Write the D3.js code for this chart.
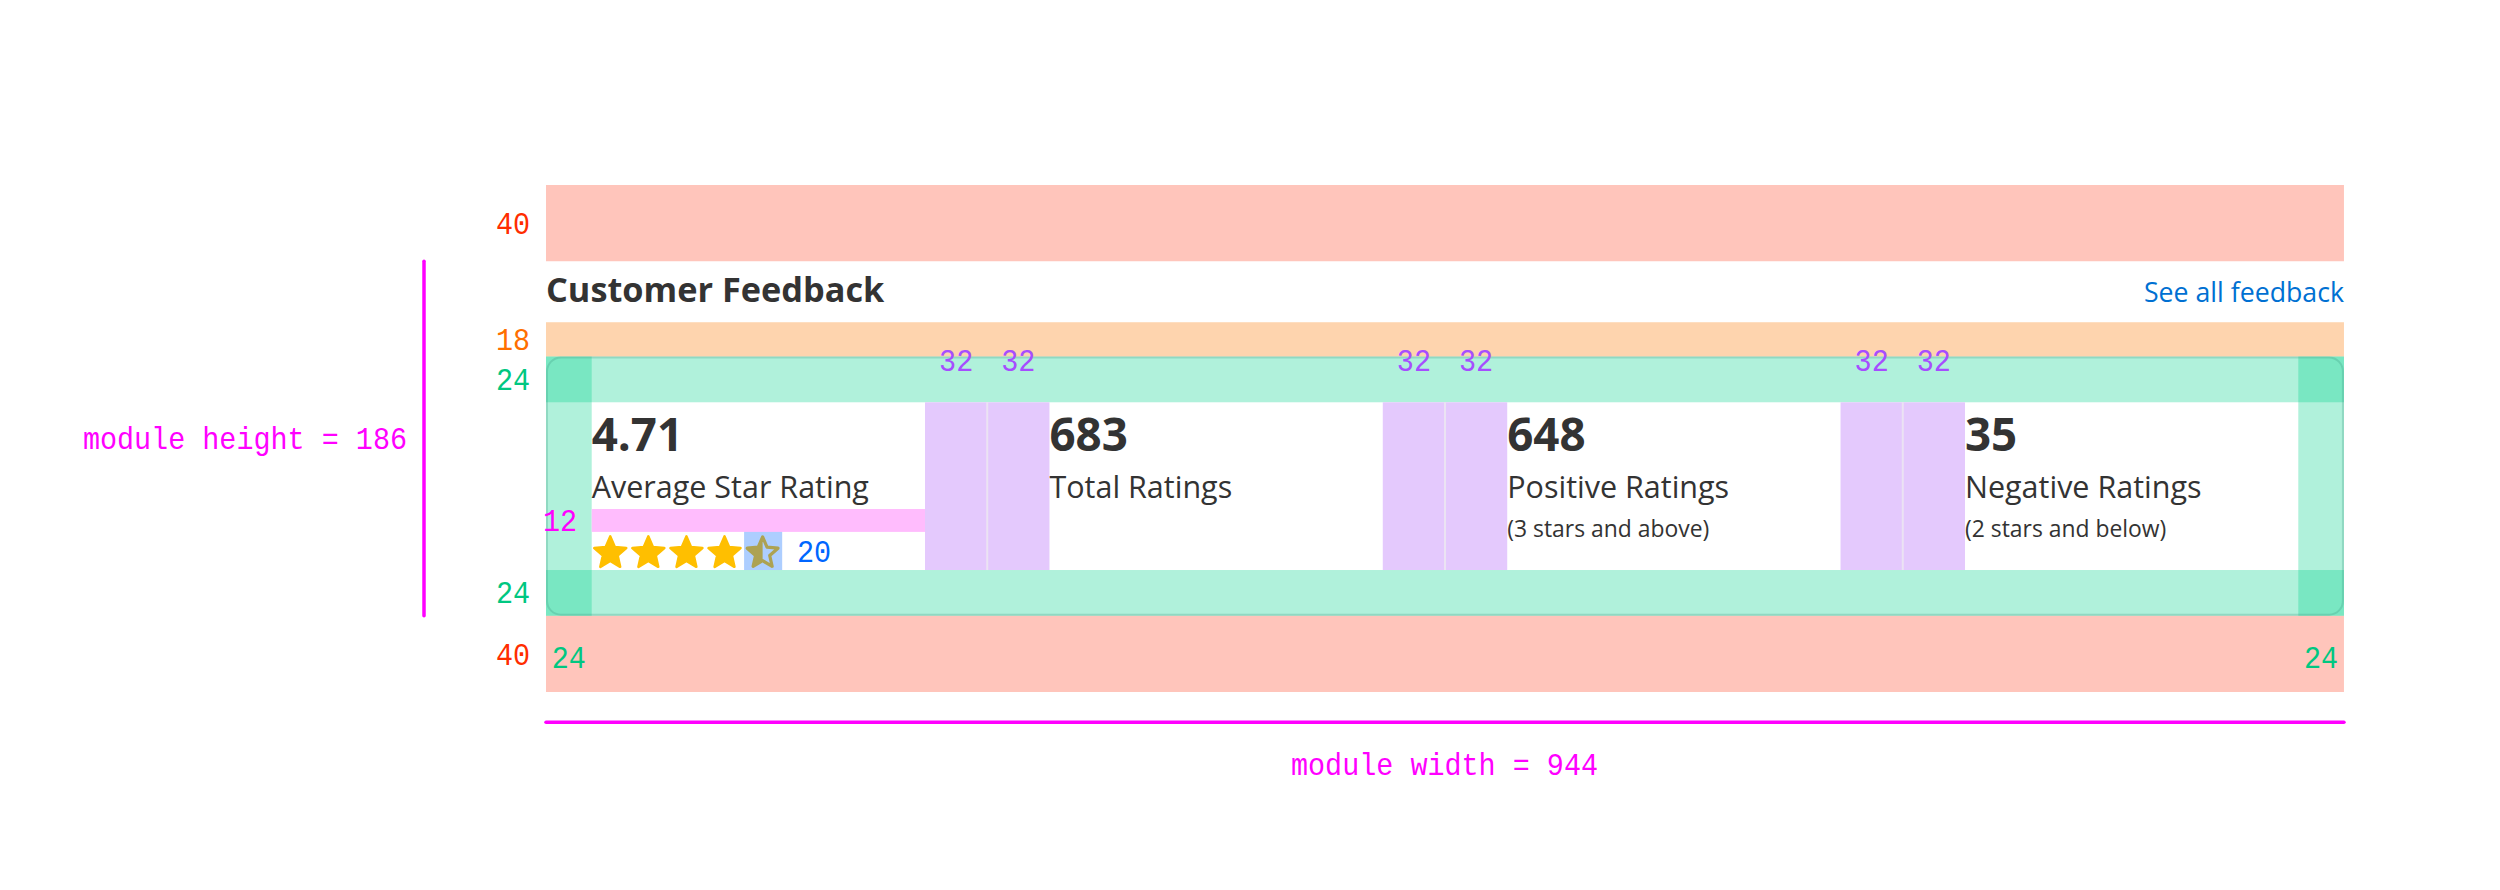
<!DOCTYPE html>
<html>
<head>
<meta charset="utf-8">
<script src="https://d3js.org/d3.v7.min.js"></script>
<style>html,body{margin:0;padding:0;background:#fff}svg{display:block}</style>
</head>
<body>
<svg id="c" width="2500" height="890"></svg>
<script>
// Spacing values shown in the redline (design units)
const verticalSegments = [40, 32, 18, 24, 88, 24, 40];
const horizontalSegments = [24, 175, 32.67, 32.67, 175, 32.67, 32.67, 175, 32.67, 32.67, 175, 24];
const paddingLabel = 24, gapLabel = 32;
const starSlots = [1, 1, 1, 1, 0.5];
const metricValues = ["4.71", "683", "648", "35"];
const metricLabels = ["Average Star Rating", "Total Ratings", "Positive Ratings", "Negative Ratings"];
const metricNotes = ["", "", "(3 stars and above)", "(2 stars and below)"];
const titleText = "Customer Feedback";
const linkText = "See all feedback";
const moduleWidth = 944, moduleHeight = 186, pinkGap = 12, starSize = 20;

const svg = d3.select("#c");
const SANS = "'Open Sans'", MONO = "'Liberation Mono'";
const col = {red:"#ff2d00", orange:"#ff6f00", green:"#00d28c", labelGreen:"#00c781", purple:"#a64dff", magenta:"#ff00ff", blue:"#0066ff", ink:"#333333", link:"#0070d2"};

const xs = d3.scaleLinear().domain([0, d3.sum(horizontalSegments)]).range([546, 2344]);
const ys = d3.scaleLinear().domain([0, d3.sum(verticalSegments)]).range([185, 692]);
const xe = [0, ...d3.cumsum(horizontalSegments)];
const ye = [0, ...d3.cumsum(verticalSegments)];

function rect(x0, x1, y0, y1, fill, op) {
  return svg.append("rect").attr("x", xs(x0)).attr("width", xs(x1) - xs(x0))
    .attr("y", ys(y0)).attr("height", ys(y1) - ys(y0)).attr("fill", fill).attr("fill-opacity", op == null ? 1 : op);
}
function text(s, x, y, size, fill, family, weight, anchor) {
  return svg.append("text").text(s).attr("x", x).attr("y", y).attr("font-size", size)
    .attr("fill", fill).attr("font-family", family).attr("font-weight", weight || 400)
    .attr("text-anchor", anchor || "start");
}
// Redline annotations: narrow, tall monospace
function mono(s, x, y, fill, anchor) {
  return svg.append("text").text(s).attr("transform", `translate(${x},${y - 0.8}) scale(0.9,1)`)
    .attr("font-size", 31.6).attr("fill", fill).attr("font-family", MONO)
    .attr("text-anchor", anchor || "start");
}

// margins
rect(0, moduleWidth, ye[0], ye[1], "#ffc5bb");
rect(0, moduleWidth, ye[6], ye[7], "#ffc5bb");
rect(0, moduleWidth, ye[2], ye[3], "#fed4ae");

// padding bands (overlap forms the darker corners)
rect(0, moduleWidth, ye[3], ye[4], col.green, 0.31);
rect(0, moduleWidth, ye[5], ye[6], col.green, 0.31);
rect(xe[0], xe[1], ye[3], ye[6], col.green, 0.31);
rect(xe[11], xe[12], ye[3], ye[6], col.green, 0.31);

// card outline
svg.append("rect").attr("x", xs(0) + 1).attr("y", ys(ye[3]) + 1)
  .attr("width", xs(moduleWidth) - xs(0) - 2).attr("height", ys(ye[6]) - ys(ye[3]) - 2)
  .attr("rx", 14).attr("fill", "none").attr("stroke", "#3d9a80").attr("stroke-opacity", 0.28).attr("stroke-width", 2);

// column gaps
[2, 3, 5, 6, 8, 9].forEach(i => rect(xe[i], xe[i + 1], ye[4], ye[5], "#e4c9fd"));
[3, 6, 9].forEach(i => svg.append("rect").attr("x", xs(xe[i]) - 1).attr("width", 2)
  .attr("y", ys(ye[4])).attr("height", ys(ye[5]) - ys(ye[4])).attr("fill", "#ebe3f3"));

// 12 unit gap above the stars
rect(xe[1], xe[2], ye[5] - starSize - pinkGap, ye[5] - starSize, "#ffbcfd");

// stars: a d3 symbol type with a fuller body than d3.symbolStar
const starType = {
  draw(ctx, size) {
    const r = Math.sqrt(size);
    for (let k = 0; k < 10; k++) {
      const a = -Math.PI / 2 + k * Math.PI / 5, q = k % 2 ? r * 0.46 : r;
      k ? ctx.lineTo(q * Math.cos(a), q * Math.sin(a)) : ctx.moveTo(q * Math.cos(a), q * Math.sin(a));
    }
    ctx.closePath();
  }
};
const defs = svg.append("defs");
const starPath = d3.symbol().type(starType).size(16.8 * 16.8)();
const outlinePath = d3.symbol().type(starType).size(16.2 * 16.2)();
const slotX = i => xs(xe[1] + i * starSize);
const starCY = ys(ye[5] - starSize) + 21.3;
const cx = i => (slotX(i) + slotX(i + 1)) / 2 - 0.5;
starSlots.forEach((v, i) => {
  if (v === 1) {
    svg.append("path").attr("d", starPath).attr("transform", `translate(${cx(i)},${starCY})`)
      .attr("fill", "#ffbf00").attr("stroke", "#ffbf00").attr("stroke-width", 2.6).attr("stroke-linejoin", "round");
  } else {
    defs.append("clipPath").attr("id", "half" + i).append("rect")
      .attr("x", -30).attr("y", -30).attr("width", 30).attr("height", 60);
    svg.append("path").attr("d", starPath).attr("transform", `translate(${cx(i)},${starCY})`)
      .attr("fill", "#ffbf00").attr("clip-path", `url(#half${i})`);
    svg.append("path").attr("d", outlinePath)
      .attr("transform", `translate(${cx(i)},${starCY})`)
      .attr("fill", "none").attr("stroke", "#ffbf00").attr("stroke-width", 3.2).attr("stroke-linejoin", "round");
    svg.append("rect").attr("x", slotX(i)).attr("width", slotX(i + 1) - slotX(i))
      .attr("y", ys(ye[5] - starSize)).attr("height", ys(ye[5]) - ys(ye[5] - starSize))
      .attr("fill", col.blue).attr("fill-opacity", 0.32);
  }
});

// title row
text(titleText, xs(0), 301.7, 34.3, col.ink, SANS, 700);
text(linkText, xs(moduleWidth), 302.3, 26.7, col.link, SANS, 400, "end");

// metric columns
[1, 4, 7, 10].forEach((seg, i) => {
  const tx = xs(xe[seg]);
  text(metricValues[i], tx, 450.8, 45.7, col.ink, SANS, 700);
  text(metricLabels[i], tx, 498.3, 30.5, col.ink, SANS, 400);
  if (metricNotes[i]) text(metricNotes[i], tx, 536.7, 22.9, col.ink, SANS, 400);
});

// redline numbers
mono(verticalSegments[0], 530, 235, col.red, "end");
mono(verticalSegments[2], 530, 351, col.orange, "end");
mono(verticalSegments[3], 530, 391, col.labelGreen, "end");
mono(verticalSegments[5], 530, 604, col.labelGreen, "end");
mono(verticalSegments[6], 530, 665.7, col.red, "end");
mono(paddingLabel, xs(12), 669, col.labelGreen, "middle");
mono(paddingLabel, xs(moduleWidth - 12), 669, col.labelGreen, "middle");
mono(pinkGap, 560, 532, col.magenta, "middle");
mono(starSize, 814, 562.7, col.blue, "middle");
[2, 3, 5, 6, 8, 9].forEach(i => mono(gapLabel, (xs(xe[i]) + xs(xe[i + 1])) / 2, 372, col.purple, "middle"));

// module dimension lines
svg.append("line").attr("x1", 424).attr("x2", 424).attr("y1", ys(ye[1])).attr("y2", ys(ye[1] + moduleHeight))
  .attr("stroke", col.magenta).attr("stroke-width", 3.5).attr("stroke-linecap", "round");
svg.append("line").attr("x1", xs(0)).attr("x2", xs(moduleWidth)).attr("y1", 722.3).attr("y2", 722.3)
  .attr("stroke", col.magenta).attr("stroke-width", 3.5).attr("stroke-linecap", "round");
mono(`module height = ${moduleHeight}`, 407, 450, col.magenta, "end");
mono(`module width = ${moduleWidth}`, 1444.5, 776, col.magenta, "middle");
</script>
</body>
</html>
